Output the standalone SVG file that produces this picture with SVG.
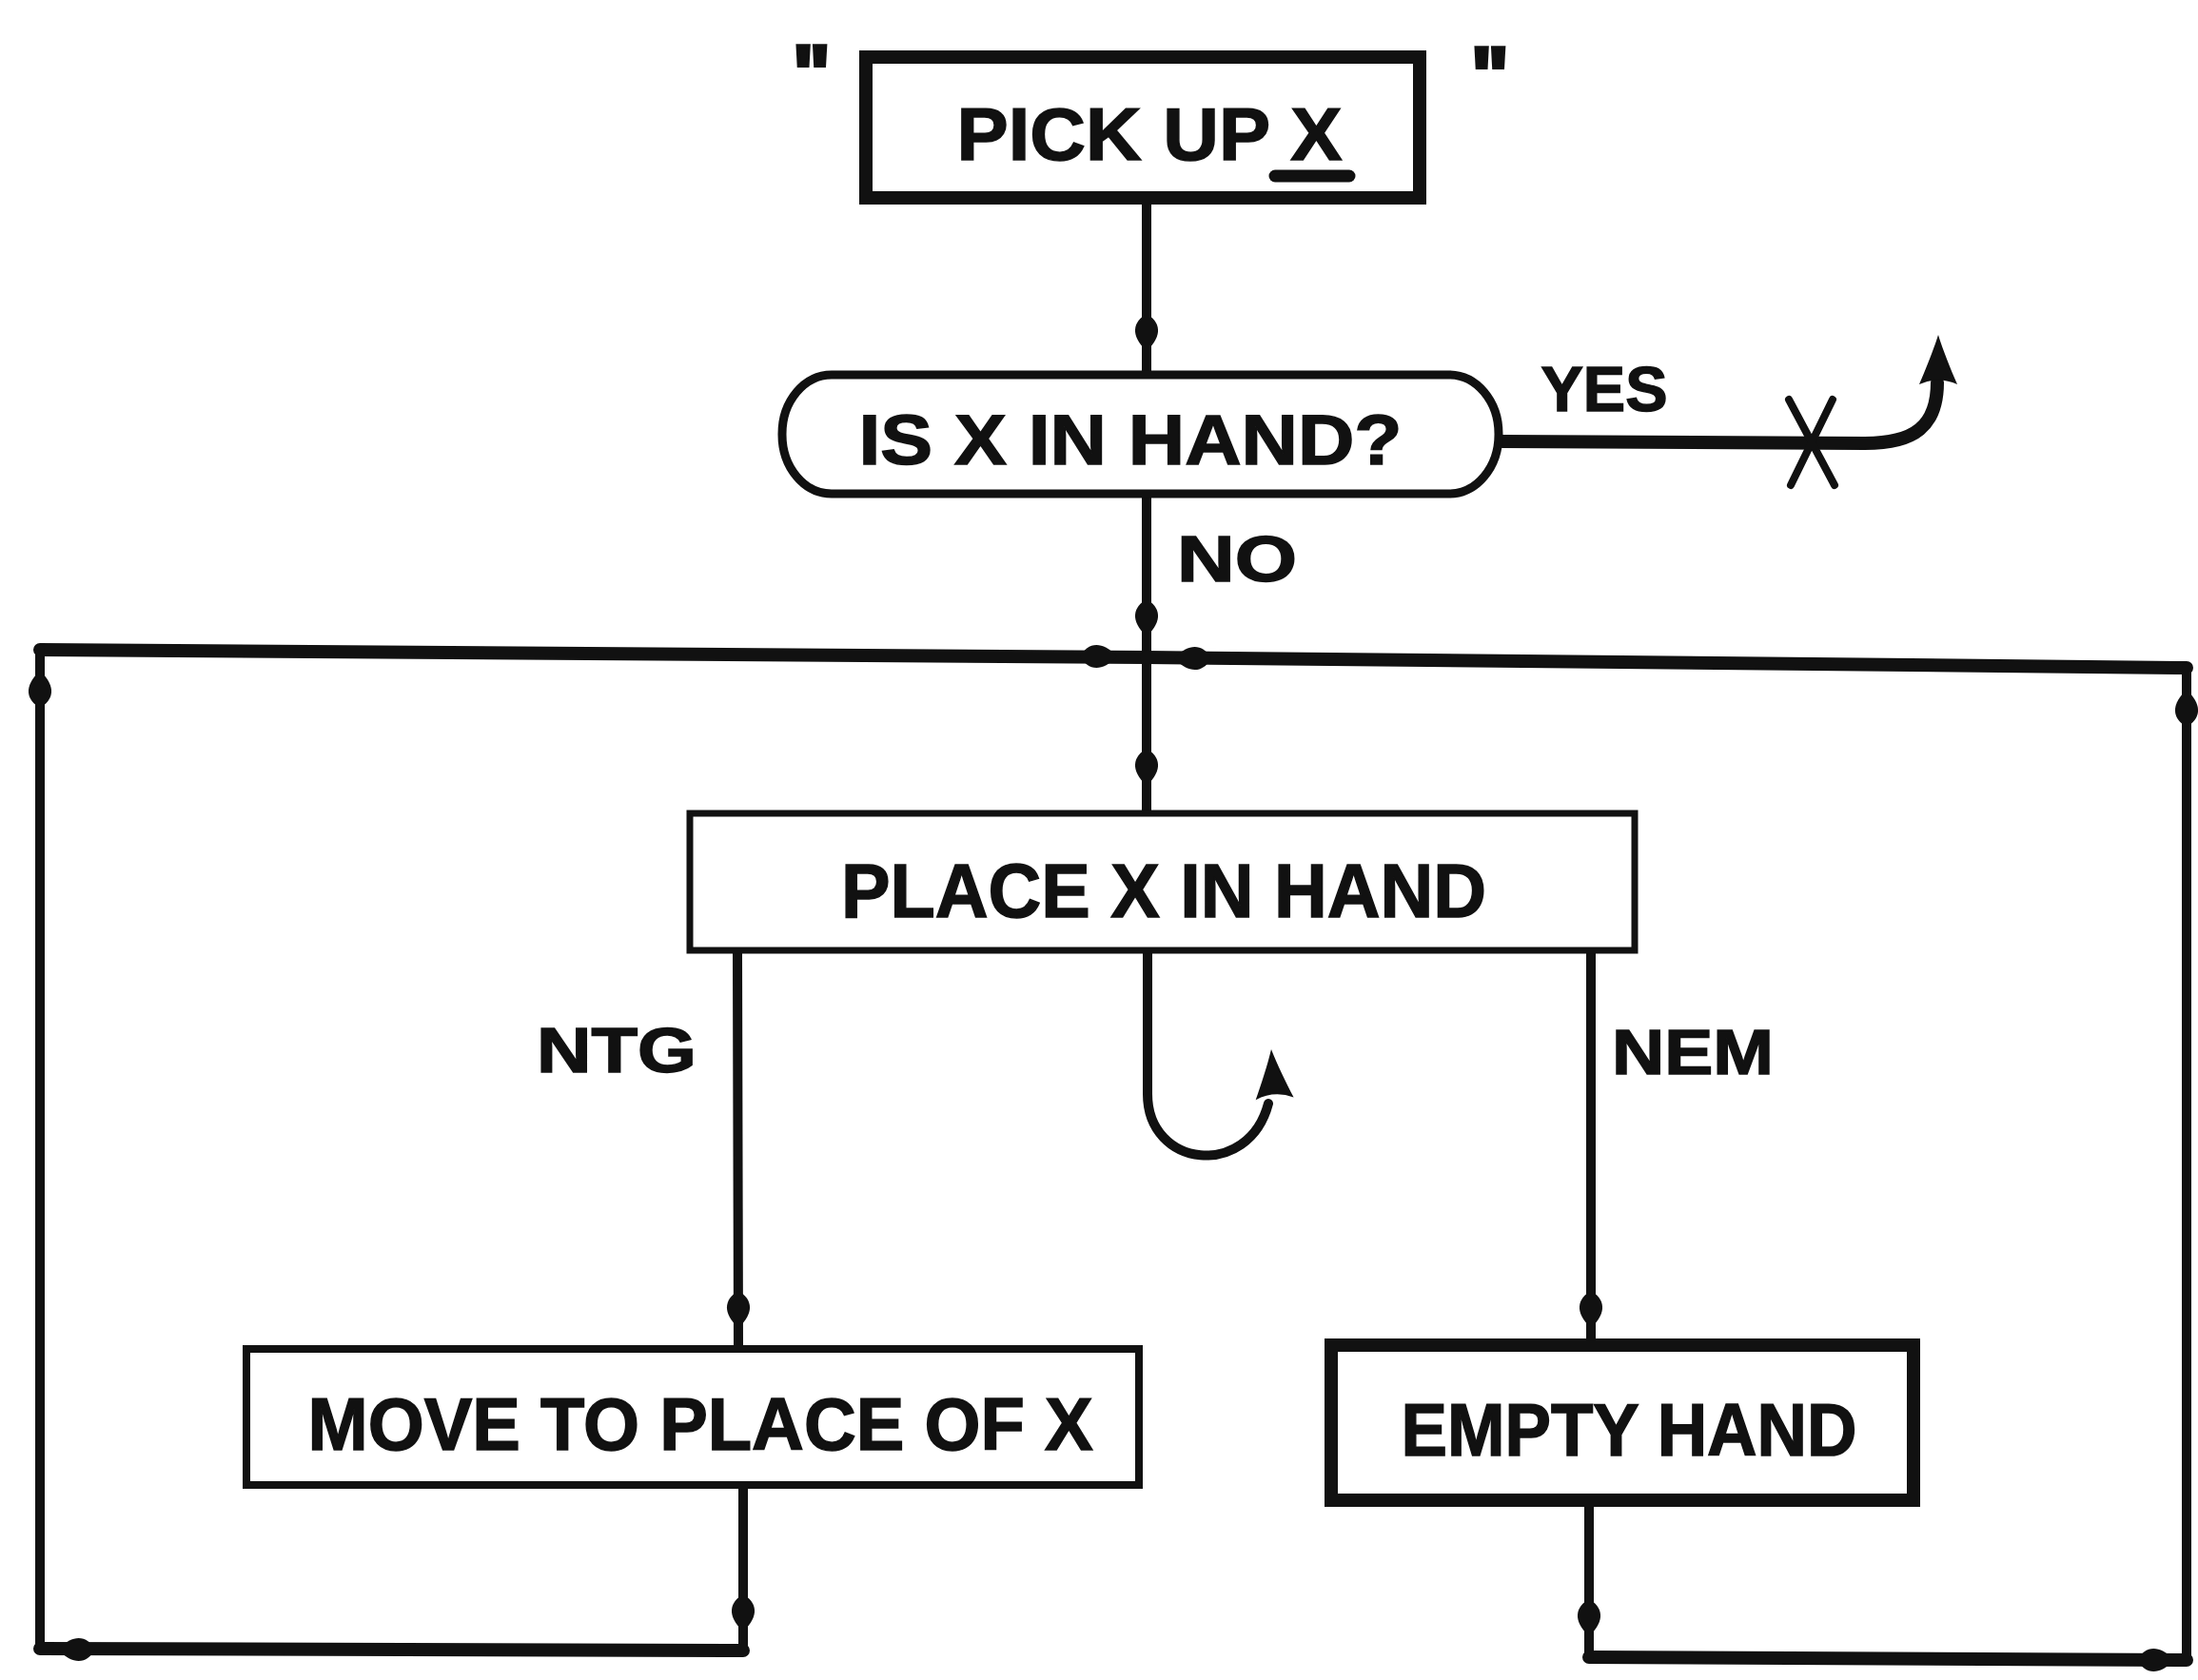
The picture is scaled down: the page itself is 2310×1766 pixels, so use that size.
<svg xmlns="http://www.w3.org/2000/svg" xmlns:xlink="http://www.w3.org/1999/xlink" width="2310" height="1766" viewBox="0 0 2310 1766">
<style>
.ln{fill:none;stroke:#111;stroke-linecap:round;stroke-linejoin:round}
.thin{stroke-width:10}
.thick{stroke-width:14}
.box{fill:#fff;stroke:#111}
.t{font-family:"Liberation Sans",Arial,sans-serif;font-weight:bold;fill:#111;stroke:#111;stroke-width:1.5}
.blob{fill:#111}
</style>
<defs>
<path id="ah" d="M0,-20 C14,-12 18,2 0,19 C-18,2 -14,-12 0,-20Z"/>
<path id="big" d="M0,0 C5,16 13,36 20,52 Q0,43 -20,52 C-13,36 -5,16 0,0Z"/>
</defs>
<rect width="2310" height="1766" fill="#fff"/>

<g id="connectors">
  <path class="ln thin" d="M1205,215 L1205,390"/>
  <path class="ln thin" d="M1205,523 L1205,852"/>
  <path class="ln thick" d="M1579,464 L1960,466 C2012,466 2036,448 2036,402"/>
  <path class="ln thick" d="M1205,691 L42,683"/>
  <path class="ln thick" d="M1205,691 L2298,702"/>
  <path class="ln thin" d="M42,683 L42,1733"/>
  <path class="ln thin" d="M2298,702 L2298,1745"/>
  <path class="ln thick" d="M42,1733 L781,1735"/>
  <path class="ln thin" d="M781,1735 L781,1565"/>
  <path class="ln thick" d="M2298,1745 L1670,1742"/>
  <path class="ln thin" d="M1670,1742 L1670,1584"/>
  <path class="ln thin" d="M775,1002 L776,1414"/>
  <path class="ln thin" d="M1672,1002 L1672,1407"/>
  <path class="ln thin" d="M1206,1000 L1206,1150 C1206,1228 1312,1240 1333,1160"/>
  <path class="ln" stroke-width="8" d="M1880,420 L1928,510 M1926,420 L1882,510"/>
  <use href="#big" class="blob" transform="translate(2037,352)"/>
  <use href="#big" class="blob" transform="translate(1336,1103) rotate(-4)"/>
  <use href="#ah" class="blob" transform="translate(1205,350)"/>
  <use href="#ah" class="blob" transform="translate(1205,650)"/>
  <use href="#ah" class="blob" transform="translate(1205,807)"/>
  <use href="#ah" class="blob" transform="translate(1155,690) rotate(-90)"/>
  <use href="#ah" class="blob" transform="translate(1253,692) rotate(90)"/>
  <use href="#ah" class="blob" transform="translate(42,724) rotate(180)"/>
  <use href="#ah" class="blob" transform="translate(2298,744) rotate(180)"/>
  <use href="#ah" class="blob" transform="translate(776,1377)"/>
  <use href="#ah" class="blob" transform="translate(1672,1377)"/>
  <use href="#ah" class="blob" transform="translate(781,1696)"/>
  <use href="#ah" class="blob" transform="translate(1670,1701)"/>
  <use href="#ah" class="blob" transform="translate(80,1734) rotate(90)"/>
  <use href="#ah" class="blob" transform="translate(2266,1745) rotate(-90)"/>
</g>

<g id="pick-up-x">
  <rect class="box" x="910" y="60" width="582" height="148" stroke-width="14"/>
  <text class="t" x="1208" y="168" font-size="78" text-anchor="middle" textLength="405" lengthAdjust="spacingAndGlyphs">PICK UP X</text>
  <line x1="1340" y1="185" x2="1418" y2="185" stroke="#111" stroke-width="13" stroke-linecap="round"/>
  <text class="t" x="853" y="106" font-size="84" text-anchor="middle" style="stroke-width:4">"</text>
  <text class="t" x="1566" y="108" font-size="84" text-anchor="middle" style="stroke-width:4">"</text>
</g>

<g id="is-x-in-hand">
  <rect class="box" x="822" y="394" width="753" height="125" rx="52" ry="62" stroke-width="9"/>
  <text class="t" x="1188" y="488" font-size="74" text-anchor="middle" textLength="571" lengthAdjust="spacingAndGlyphs">IS X IN HAND?</text>
</g>

<g id="label-yes"><text class="t" x="1686" y="432" font-size="66" text-anchor="middle" textLength="133" lengthAdjust="spacingAndGlyphs">YES</text></g>
<g id="label-no"><text class="t" x="1300" y="611" font-size="68" text-anchor="middle" textLength="126" lengthAdjust="spacingAndGlyphs">NO</text></g>

<g id="place-x-in-hand">
  <rect class="box" x="725" y="855" width="993" height="144" stroke-width="7"/>
  <text class="t" x="1223" y="964" font-size="80" text-anchor="middle" textLength="678" lengthAdjust="spacingAndGlyphs">PLACE X IN HAND</text>
</g>

<g id="label-ntg"><text class="t" x="648" y="1127" font-size="66" text-anchor="middle" textLength="168" lengthAdjust="spacingAndGlyphs">NTG</text></g>
<g id="label-nem"><text class="t" x="1779" y="1129" font-size="66" text-anchor="middle" textLength="170" lengthAdjust="spacingAndGlyphs">NEM</text></g>

<g id="move-to-place-of-x">
  <rect class="box" x="259" y="1418" width="938" height="143" stroke-width="8"/>
  <text class="t" x="736" y="1524" font-size="78" text-anchor="middle" textLength="825" lengthAdjust="spacingAndGlyphs">MOVE TO PLACE OF X</text>
</g>

<g id="empty-hand">
  <rect class="box" x="1399" y="1414" width="612" height="163" stroke-width="14"/>
  <line x1="1392" y1="1580" x2="2018" y2="1580" stroke="#111" stroke-width="8"/>
  <text class="t" x="1712" y="1530" font-size="78" text-anchor="middle" textLength="479" lengthAdjust="spacingAndGlyphs">EMPTY HAND</text>
</g>
</svg>
